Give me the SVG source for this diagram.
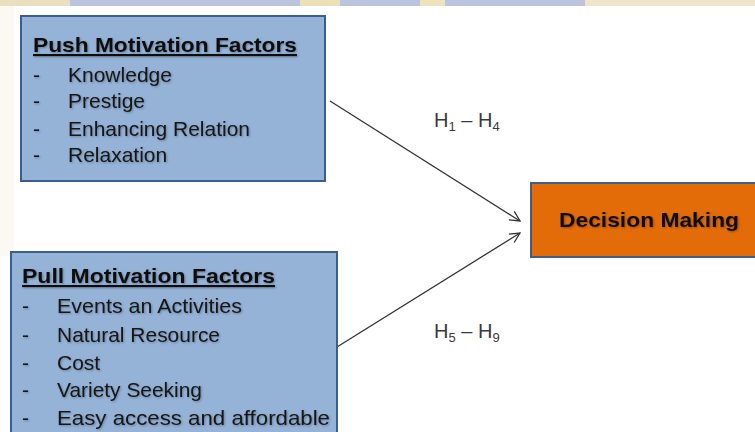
<svg xmlns="http://www.w3.org/2000/svg" width="755" height="432" viewBox="0 0 755 432">
  <style>
    .box { fill: #95B3D7; stroke: #3A5F8E; stroke-width: 2; }
    .dec { fill: #E36C09; stroke: #3A5F8E; stroke-width: 2; }
    .hd { font-family: "Liberation Sans", Arial, sans-serif; font-weight: bold; font-size: 21px; fill: #111; text-decoration: underline; }
    .it { font-family: "Liberation Sans", Arial, sans-serif; font-size: 21px; fill: #151515; }
    .dm { font-family: "Liberation Sans", Arial, sans-serif; font-weight: bold; font-size: 21px; fill: #111; }
    .lbl { font-family: "Liberation Sans", Arial, sans-serif; font-size: 20px; fill: #3a3a3a; }
    .sub { font-size: 13px; }
    .conn { stroke: #333; stroke-width: 1.3; fill: none; }
  </style>
  <defs>
    <filter id="sh" x="-5%" y="-20%" width="110%" height="140%">
      <feDropShadow dx="1" dy="1" stdDeviation="0.8" flood-color="#000" flood-opacity="0.3"/>
    </filter>
    <marker id="ah" viewBox="0 0 12 12" refX="11" refY="6" markerWidth="12" markerHeight="12" markerUnits="userSpaceOnUse" orient="auto">
      <path d="M1,1 L11,6 L1,11" fill="none" stroke="#333" stroke-width="1.3"/>
    </marker>
  </defs>
  <rect width="755" height="432" fill="#fff"/>
  <!-- faint watermark strip at top -->
  <g id="watermark" opacity="0.9">
    <rect x="0" y="0" width="755" height="6" fill="#B3BEDB"/>
    <rect x="0" y="0" width="70" height="6" fill="#E8DDB8"/>
    <rect x="300" y="0" width="40" height="6" fill="#E9DDB0"/>
    <rect x="420" y="0" width="25" height="6" fill="#EBDFB4"/>
    <rect x="585" y="0" width="170" height="6" fill="#EDE3C6"/>
    <rect x="0" y="6" width="14" height="250" fill="#F8F4E6" opacity="0.6"/>
  </g>

  <g id="connectors">
    <line class="conn" x1="330" y1="101" x2="520" y2="221" marker-end="url(#ah)"/>
    <line class="conn" x1="337" y1="347" x2="520" y2="233" marker-end="url(#ah)"/>
  </g>

  <g id="push">
    <rect class="box" x="21" y="16" width="304" height="165"/>
    <g filter="url(#sh)">
      <text class="hd" x="33" y="52" textLength="264" lengthAdjust="spacingAndGlyphs">Push Motivation Factors</text>
      <text class="it" x="33" y="82">-</text>
      <text class="it" x="68" y="82">Knowledge</text>
      <text class="it" x="33" y="108">-</text>
      <text class="it" x="68" y="108">Prestige</text>
      <text class="it" x="33" y="136">-</text>
      <text class="it" x="68" y="136" textLength="182" lengthAdjust="spacingAndGlyphs">Enhancing Relation</text>
      <text class="it" x="33" y="162">-</text>
      <text class="it" x="68" y="162">Relaxation</text>
    </g>
  </g>

  <g id="pull">
    <rect class="box" x="11" y="252" width="326" height="190"/>
    <g filter="url(#sh)">
      <text class="hd" x="22" y="283" textLength="253" lengthAdjust="spacingAndGlyphs">Pull Motivation Factors</text>
      <text class="it" x="22" y="313">-</text>
      <text class="it" x="57" y="313" textLength="185" lengthAdjust="spacingAndGlyphs">Events an Activities</text>
      <text class="it" x="22" y="342">-</text>
      <text class="it" x="57" y="342" textLength="163" lengthAdjust="spacingAndGlyphs">Natural Resource</text>
      <text class="it" x="22" y="370">-</text>
      <text class="it" x="57" y="370">Cost</text>
      <text class="it" x="22" y="397">-</text>
      <text class="it" x="57" y="397" textLength="145" lengthAdjust="spacingAndGlyphs">Variety Seeking</text>
      <text class="it" x="22" y="425">-</text>
      <text class="it" x="57" y="425" textLength="273" lengthAdjust="spacingAndGlyphs">Easy access and affordable</text>
    </g>
  </g>

  <g id="decision">
    <rect class="dec" x="531" y="183" width="240" height="74"/>
    <text class="dm" x="559" y="227" textLength="180" lengthAdjust="spacingAndGlyphs" filter="url(#sh)">Decision Making</text>
  </g>

  <g id="labels">
    <text class="lbl" x="434" y="127">H<tspan class="sub" dy="4">1</tspan><tspan dy="-4"> – H</tspan><tspan class="sub" dy="4">4</tspan></text>
    <text class="lbl" x="434" y="338">H<tspan class="sub" dy="4">5</tspan><tspan dy="-4"> – H</tspan><tspan class="sub" dy="4">9</tspan></text>
  </g>
</svg>
